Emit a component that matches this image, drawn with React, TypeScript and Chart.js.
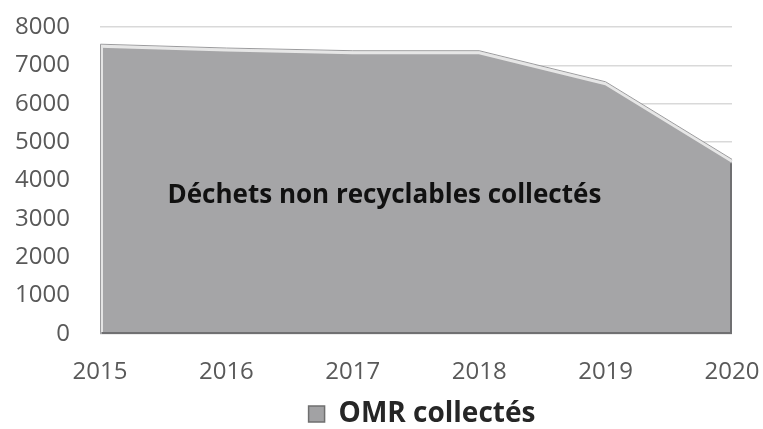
import React, { useEffect, useRef } from "react";
import { Chart, registerables } from "chart.js";

Chart.register(...registerables);

const years = ["2015", "2016", "2017", "2018", "2019", "2020"];
const omrValues = [7500, 7400, 7330, 7330, 6520, 4500];
const yTicks = [0, 1000, 2000, 3000, 4000, 5000, 6000, 7000, 8000];
const seriesLabel = "OMR collectés";
const annotationText = "Déchets non recyclables collectés";
const annotationAt = { x: 2.25, y: 3600 };

const FONT = "'Open Sans', 'DejaVu Sans', sans-serif";

const annotationPlugin = {
  id: "annotationText",
  afterLayout(chart: any) {
    const lg = chart.legend;
    if (lg) {
      lg.left += 56;
      lg.right += 56;
      lg.top += 9;
      lg.bottom += 9;
    }
  },
  afterDatasetsDraw(chart: any) {
    const { ctx, scales } = chart;
    const meta = chart.getDatasetMeta(0);
    const pts = meta.data;
    const y0 = scales.y.getPixelForValue(0);
    ctx.save();
    if (pts.length) {
      const first = pts[0];
      const last = pts[pts.length - 1];
      // left highlight
      ctx.strokeStyle = "#e4e4e4";
      ctx.lineWidth = 3;
      ctx.beginPath();
      ctx.moveTo(first.x + 1.5, first.y);
      ctx.lineTo(first.x + 1.5, y0 - 2);
      ctx.stroke();
      // thin outer outline along top and left
      ctx.strokeStyle = "#9c9c9e";
      ctx.lineWidth = 1;
      ctx.beginPath();
      ctx.moveTo(first.x + 0.5, y0 - 2);
      ctx.lineTo(first.x + 0.5, first.y - 2);
      pts.forEach((p: any, i: number) => {
        if (i > 0) ctx.lineTo(p.x, p.y - 2);
      });
      ctx.stroke();
      // dark bottom and right edges
      ctx.strokeStyle = "#707072";
      ctx.lineWidth = 2;
      ctx.beginPath();
      ctx.moveTo(first.x + 2, y0 - 1);
      ctx.lineTo(last.x - 1, y0 - 1);
      ctx.lineTo(last.x - 1, last.y + 2);
      ctx.stroke();
    }
    ctx.fillStyle = "#111111";
    ctx.font = `bold 26px ${FONT}`;
    ctx.textAlign = "center";
    ctx.textBaseline = "middle";
    ctx.fillText(
      annotationText,
      scales.x.getPixelForValue(annotationAt.x),
      scales.y.getPixelForValue(annotationAt.y)
    );
    ctx.restore();
  },
};

export default function App() {
  const ref = useRef<HTMLCanvasElement | null>(null);
  useEffect(() => {
    if (!ref.current) return;
    const chart = new Chart(ref.current, {
      type: "line",
      data: {
        labels: years,
        datasets: [
          {
            label: seriesLabel,
            data: omrValues,
            fill: "origin",
            backgroundColor: "#a5a5a7",
            borderColor: "#e6e6e6",
            borderWidth: 3,
            pointRadius: 0,
            tension: 0,
          },
        ],
      },
      options: {
        animation: false,
        responsive: false,
        maintainAspectRatio: false,
        layout: { padding: { left: 0, right: 31, top: 27, bottom: 0 } },
        plugins: {
          tooltip: { enabled: false },
          legend: {
            position: "bottom",
            labels: {
              color: "#262626",
              font: { family: FONT, size: 28, weight: "bold" },
              boxWidth: 16,
              boxHeight: 16,
              padding: 6,
              generateLabels: (c: any) =>
                c.data.datasets.map((d: any, i: number) => ({
                  text: d.label,
                  fillStyle: "#a2a2a4",
                  strokeStyle: "#6f6f6f",
                  lineWidth: 1.5,
                  datasetIndex: i,
                  fontColor: "#262626",
                })),
            },
          },
        },
        scales: {
          x: {
            offset: false,
            grid: { display: false, drawTicks: true, tickLength: 24, tickColor: "rgba(0,0,0,0)" },
            border: { display: false },
            ticks: {
              color: "#595959",
              font: { family: FONT, size: 24 },
              padding: 0,
              maxRotation: 0,
            },
            afterFit: (s: any) => {
              s.height = 51;
            },
          },
          y: {
            min: 0,
            max: 8000,
            grid: {
              color: "#d9d9d9",
              lineWidth: 1.5,
              drawTicks: true,
              tickLength: 30,
              tickColor: "rgba(0,0,0,0)",
            },
            border: { display: false },
            afterBuildTicks: (s: any) => {
              s.ticks = yTicks.map((v) => ({ value: v }));
            },
            ticks: {
              color: "#595959",
              font: { family: FONT, size: 24 },
              padding: 0,
              callback: (v: any) => String(v),
            },
            afterFit: (s: any) => {
              s.width = 100;
            },
          },
        },
      },
      plugins: [annotationPlugin],
    });
    return () => chart.destroy();
  }, []);
  return (
    <div style={{ position: "fixed", left: 0, top: 0, width: 763, height: 429, background: "#fff" }}>
      <canvas ref={ref} width={763} height={429} style={{ width: 763, height: 429 }} />
    </div>
  );
}
